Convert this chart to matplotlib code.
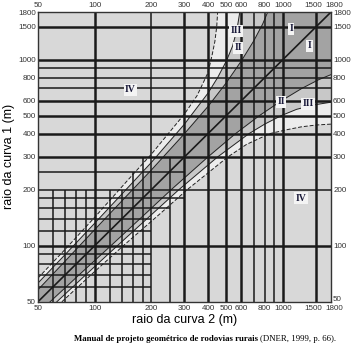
import numpy as np
import matplotlib.pyplot as plt
import matplotlib.transforms as mtransforms
from matplotlib.ticker import FixedLocator, NullLocator

# eixos (raios em m)
ticks = [50, 100, 200, 300, 400, 500, 600, 800, 1000, 1500, 1800]

# fronteiras das faixas (lado superior: raio 2 -> raio 1)
faixa1_r2 = [50, 70, 100, 150, 200, 300, 400, 500, 600, 700, 780, 830]
faixa1_r1 = [58, 83, 122, 188, 255, 400, 560, 750, 980, 1260, 1550, 1800]
faixa2_r2 = [50, 70, 100, 150, 200, 300, 400, 450, 500, 540, 570, 590]
faixa2_r1 = [63, 90, 132, 205, 280, 450, 660, 800, 980, 1180, 1450, 1800]
faixa3_r2 = [50, 70, 100, 150, 200, 300, 350, 400, 420, 435, 445, 450]
faixa3_r1 = [67, 96, 142, 225, 310, 510, 640, 850, 1050, 1250, 1500, 1800]

# rótulos das faixas
rot_txt = ['I', 'I', 'II', 'II', 'III', 'III', 'IV', 'IV']
rot_r2 = [1105, 1380, 577, 977, 562, 1362, 155, 1250]
rot_r1 = [1467, 1188, 1159, 592, 1431, 578, 688, 180]

# linhas da grade: valor e até onde vai
grade_val = [60, 70, 80, 90, 100, 120, 140, 160, 180, 200, 250, 300, 400, 500,
             600, 700, 800, 900, 1000, 1500]
grade_lim = [200, 200, 200, 200, 1800, 200, 200, 250, 300, 1800, 300, 1800, 1800,
             1800, 1800, 1800, 1800, 1800, 1800, 1800]
grade_grossa = [100, 300, 400, 500, 600, 1000, 1500]

fig = plt.figure(figsize=(3.61, 3.53), dpi=100)
ax = fig.add_axes([0.105, 0.145, 0.812, 0.821])
ax.set_xscale('log')
ax.set_yscale('log')
ax.set_xlim(50, 1800)
ax.set_ylim(50, 1800)
ax.set_facecolor('#d8d8d8')


def poligono(r2, r1):
    # lado de cima + espelho do lado de baixo
    xs = [50, 50] + list(r2) + [1800] + list(r1[::-1])
    ys = [50, r1[0]] + list(r1) + [1800] + list(r2[::-1])
    return xs, ys


for r2, r1, cor in [(faixa3_r2, faixa3_r1, '#ececec'),
                    (faixa2_r2, faixa2_r1, '#c8c8c8'),
                    (faixa1_r2, faixa1_r1, '#a3a3a3')]:
    xs, ys = poligono(r2, r1)
    ax.fill(xs, ys, color=cor, lw=0, zorder=1)

for r2, r1, ls in [(faixa3_r2, faixa3_r1, (0, (4, 2))),
                   (faixa2_r2, faixa2_r1, '-'),
                   (faixa1_r2, faixa1_r1, '-')]:
    ax.plot(r2, r1, color='#222222', lw=0.7, ls=ls, zorder=2)
    ax.plot(r1, r2, color='#222222', lw=0.7, ls=ls, zorder=2)

# grade
for v, lim in zip(grade_val, grade_lim):
    lw = 1.8 if v in grade_grossa else 1.1
    ax.plot([v, v], [50, lim], color='#1a1a1a', lw=lw, zorder=3, solid_capstyle='butt')
    ax.plot([50, lim], [v, v], color='#1a1a1a', lw=lw, zorder=3, solid_capstyle='butt')

# diagonal
ax.plot([50, 1800], [50, 1800], color='#1a1a1a', lw=1.2, zorder=4)

for t, x, y in zip(rot_txt, rot_r2, rot_r1):
    ax.text(x, y, t, ha='center', va='center', fontsize=7, fontweight='bold',
            family='Liberation Serif', color='#1a1a3a', zorder=6,
            bbox=dict(boxstyle='square,pad=0.15', fc='#f4f4f4', ec='none'))

for s in ax.spines.values():
    s.set_color('#333333')
    s.set_linewidth(1.0)
    s.set_zorder(5)

ax.xaxis.set_major_locator(FixedLocator(ticks))
ax.yaxis.set_major_locator(FixedLocator(ticks))
ax.xaxis.set_minor_locator(NullLocator())
ax.yaxis.set_minor_locator(NullLocator())
ax.set_xticklabels([str(t) for t in ticks])
ax.set_yticklabels([str(t) for t in ticks])
ax.tick_params(which='both', length=0, pad=1.5, labelsize=5.8,
               top=True, right=True, labeltop=True, labelright=True,
               colors='#333333')
ax.tick_params(axis='x', which='both', pad=3.5)
ax.tick_params(axis='x', which='both', labeltop=True, pad=2)
for lab in ax.get_xticklabels() + ax.get_yticklabels():
    lab.set_family('Liberation Sans')

# afastar 1500 e 1800 no eixo x, como no original
desloc = {1500: -2.5, 1800: 3.5}
for tk, val in zip(ax.xaxis.get_major_ticks(), ticks):
    if val in desloc:
        off = mtransforms.ScaledTranslation(desloc[val] / 100, 0, fig.dpi_scale_trans)
        tk.label1.set_transform(tk.label1.get_transform() + off)
        tk.label2.set_transform(tk.label2.get_transform() + off)
# o 50 da direita fica um pouco acima
tk50 = ax.yaxis.get_major_ticks()[0]
off = mtransforms.ScaledTranslation(0, 3.5 / 100, fig.dpi_scale_trans)
tk50.label2.set_transform(tk50.label2.get_transform() + off)

ax.set_xlabel('raio da curva 2 (m)', fontsize=9, family='Liberation Sans',
              labelpad=2)
ax.set_ylabel('raio da curva 1 (m)', fontsize=9, family='Liberation Sans',
              labelpad=2)

t1 = fig.text(0.205, 0.033, 'Manual de projeto geométrico de rodovias rurais',
              fontsize=6.3, fontweight='bold', family='Liberation Serif')
fig.canvas.draw()
bb = t1.get_window_extent().transformed(fig.transFigure.inverted())
fig.text(bb.x1 + 0.006, 0.033, '(DNER, 1999, p. 66).', fontsize=6.3,
         family='Liberation Serif')

fig.savefig('out.png', dpi=100)
